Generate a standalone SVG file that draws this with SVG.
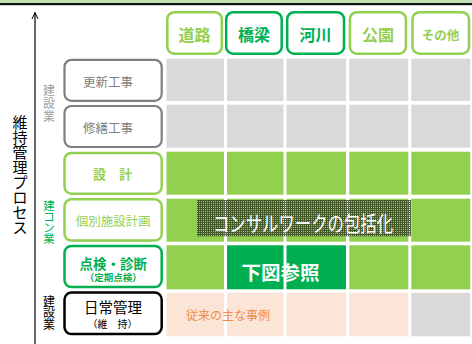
<svg xmlns="http://www.w3.org/2000/svg" width="472" height="344" viewBox="0 0 472 344">
<style>
text{font-family:"Noto Sans CJK JP","Noto Sans",sans-serif;}
.c{text-anchor:middle;dominant-baseline:central;}
.box{fill:#fff;}
.gray{stroke:#7f7f7f;stroke-width:2.2;}
.lg{stroke:#92d050;stroke-width:2.5;}
.dg{stroke:#00b050;stroke-width:2.5;}
.bk{stroke:#000;stroke-width:2.5;}
.cg{fill:#d9d9d9;}
.cl{fill:#92d050;}
.cd{fill:#00b050;}
.cp{fill:#fbe5d6;}
</style>
<defs>
<pattern id="mesh" width="2" height="2" patternUnits="userSpaceOnUse">
<rect x="0" y="0" width="2" height="1" fill="#2f3d1e"/>
<rect x="0" y="1" width="1" height="1" fill="#2f3d1e"/>
</pattern>
</defs>
<rect width="472" height="344" fill="#fff"/>
<rect x="0" y="0" width="472" height="3" fill="#c5e0b4"/>
<rect x="0" y="3" width="472" height="2.2" fill="#111"/>

<g id="axis">
<line x1="35" y1="12.5" x2="35" y2="344" stroke="#000" stroke-width="1.2"/>
<polyline points="32,19 35,12.5 38,19" fill="none" stroke="#000" stroke-width="1"/>
<text font-size="15" class="c" fill="#000"><tspan x="20" y="120.5">維</tspan><tspan x="20" y="135.6">持</tspan><tspan x="20" y="150.7">管</tspan><tspan x="20" y="165.8">理</tspan><tspan x="20" y="180.9">プ</tspan><tspan x="20" y="196">ロ</tspan><tspan x="20" y="211.1">セ</tspan><tspan x="20" y="226.2">ス</tspan></text>
</g>

<g id="side-labels">
<text font-size="12" class="c" fill="#a0a0a0"><tspan x="49" y="89.3">建</tspan><tspan x="49" y="101.9">設</tspan><tspan x="49" y="114.5">業</tspan></text>
<text font-size="11.5" class="c" fill="#00b050"><tspan x="49" y="204.5">建</tspan><tspan x="49" y="216.2">コ</tspan><tspan x="49" y="227">ン</tspan><tspan x="49" y="238.3">業</tspan></text>
<text font-size="12" class="c" fill="#000"><tspan x="49" y="299.5">建</tspan><tspan x="49" y="311.2">設</tspan><tspan x="49" y="322.9">業</tspan></text>
</g>

<g id="cells">
<rect class="cg" x="166.5" y="58.7" width="57.5" height="42.3"/>
<rect class="cg" x="227" y="58.7" width="56.5" height="42.3"/>
<rect class="cg" x="286.5" y="58.7" width="59.5" height="42.3"/>
<rect class="cg" x="349.3" y="58.7" width="59" height="42.3"/>
<rect class="cg" x="411.3" y="58.7" width="59" height="42.3"/>

<rect class="cg" x="166.5" y="104.7" width="57.5" height="43"/>
<rect class="cg" x="227" y="104.7" width="56.5" height="43"/>
<rect class="cg" x="286.5" y="104.7" width="59.5" height="43"/>
<rect class="cg" x="349.3" y="104.7" width="59" height="43"/>
<rect class="cg" x="411.3" y="104.7" width="59" height="43"/>

<rect class="cl" x="166.5" y="151.7" width="57.5" height="43"/>
<rect class="cl" x="227" y="151.7" width="56.5" height="43"/>
<rect class="cl" x="286.5" y="151.7" width="59.5" height="43"/>
<rect class="cl" x="349.3" y="151.7" width="59" height="43"/>
<rect class="cl" x="411.3" y="151.7" width="59" height="43"/>

<rect class="cl" x="166.5" y="198.7" width="57.5" height="43"/>
<rect class="cl" x="227" y="198.7" width="56.5" height="43"/>
<rect class="cl" x="286.5" y="198.7" width="59.5" height="43"/>
<rect class="cl" x="349.3" y="198.7" width="59" height="43"/>
<rect class="cl" x="411.3" y="198.7" width="59" height="43"/>

<rect class="cl" x="166.5" y="245.3" width="57.5" height="44"/>
<rect class="cd" x="227" y="245.3" width="56.5" height="44"/>
<rect class="cd" x="286.5" y="245.3" width="59.5" height="44"/>
<rect class="cl" x="349.3" y="245.3" width="59" height="44"/>
<rect class="cl" x="411.3" y="245.3" width="59" height="44"/>

<rect class="cp" x="166.5" y="292.7" width="57.5" height="43.6"/>
<rect class="cp" x="227" y="292.7" width="56.5" height="43.6"/>
<rect class="cp" x="286.5" y="292.7" width="59.5" height="43.6"/>
<rect class="cp" x="349.3" y="292.7" width="59" height="43.6"/>
<rect class="cg" x="411.3" y="292.7" width="59" height="43.6"/>
</g>

<g id="overlay-consul">
<rect x="197" y="200" width="214" height="36.3" fill="url(#mesh)" opacity="0.8"/>
<text x="213" y="221.5" font-size="21" fill="#fff" dominant-baseline="central" textLength="180" lengthAdjust="spacingAndGlyphs">コンサルワークの包括化</text>
</g>
<g id="overlay-ref">
<text x="280.5" y="271.5" font-size="19.5" font-weight="bold" fill="#fff" class="c">下図参照</text>
</g>
<g id="overlay-past">
<text x="186" y="314" font-size="12" fill="#f08b45" dominant-baseline="central">従来の主な事例</text>
</g>

<g id="col-road">
<rect class="box lg" x="167.3" y="12.2" width="54.5" height="41.5" rx="7"/>
<text x="194.5" y="34" font-size="16" font-weight="bold" fill="#92d050" class="c">道路</text>
</g>
<g id="col-bridge">
<rect class="box dg" x="226.2" y="12.2" width="55.5" height="41.5" rx="7"/>
<text x="254" y="34" font-size="16" font-weight="bold" fill="#00b050" class="c">橋梁</text>
</g>
<g id="col-river">
<rect class="box dg" x="287.2" y="12.2" width="56.8" height="41.5" rx="7"/>
<text x="315.5" y="34" font-size="16" font-weight="bold" fill="#00b050" class="c">河川</text>
</g>
<g id="col-park">
<rect class="box lg" x="349.9" y="12.2" width="56" height="41.5" rx="7"/>
<text x="378" y="34" font-size="16" font-weight="bold" fill="#92d050" class="c">公園</text>
</g>
<g id="col-other">
<rect class="box lg" x="412.5" y="12.2" width="56.5" height="41.5" rx="7"/>
<text x="440.5" y="34" font-size="12.5" font-weight="bold" fill="#92d050" class="c">その他</text>
</g>

<g id="row-renewal">
<rect class="box gray" x="64.5" y="59.8" width="97.2" height="41" rx="7"/>
<text x="108" y="81.5" font-size="12.5" fill="#7f7f7f" class="c">更新工事</text>
</g>
<g id="row-repair">
<rect class="box gray" x="64.5" y="106" width="97.2" height="41" rx="7"/>
<text x="108" y="127.8" font-size="12.5" fill="#7f7f7f" class="c">修繕工事</text>
</g>
<g id="row-design">
<rect class="box lg" x="64.5" y="152.9" width="97.2" height="40.8" rx="7"/>
<text x="112.5" y="173.5" font-size="13" font-weight="bold" fill="#92d050" class="c">設　計</text>
</g>
<g id="row-plan">
<rect class="box lg" x="64.5" y="199.3" width="97.2" height="41.3" rx="7"/>
<text x="113.3" y="220.3" font-size="12.5" fill="#92d050" class="c">個別施設計画</text>
</g>
<g id="row-inspect">
<rect class="box dg" x="64.5" y="245.9" width="97.2" height="41.2" rx="7"/>
<text x="113.3" y="262.5" font-size="13.5" font-weight="bold" fill="#00b050" class="c">点検・診断</text>
<text x="113.3" y="277" font-size="9.5" font-weight="bold" fill="#00b050" class="c">（定期点検）</text>
</g>
<g id="row-daily">
<rect class="box bk" x="64.5" y="292.6" width="97.2" height="41.5" rx="7"/>
<text x="113" y="306.5" font-size="14.5" fill="#000" class="c">日常管理</text>
<text x="112.5" y="323.8" font-size="10" fill="#000" class="c">（維　持）</text>
</g>
</svg>
